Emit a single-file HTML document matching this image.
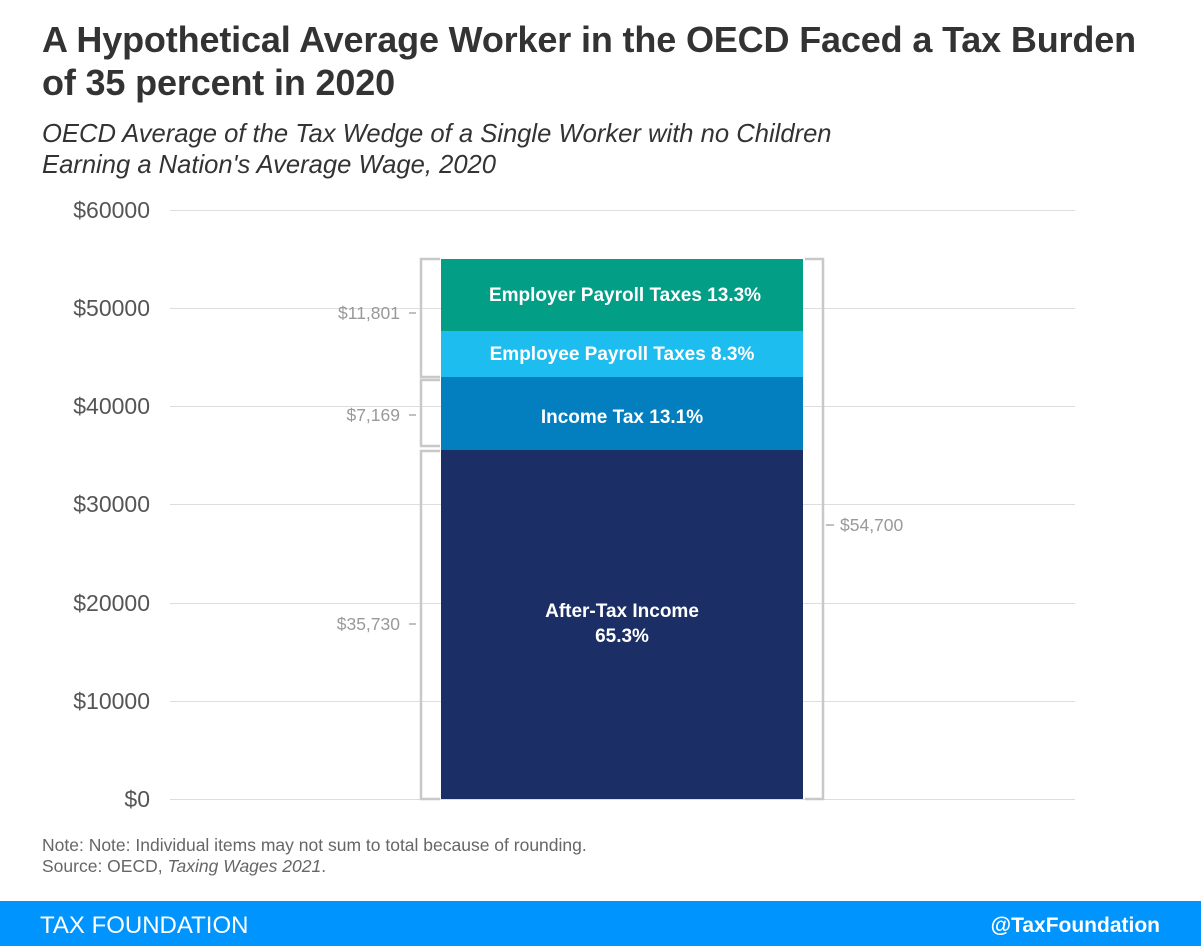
<!DOCTYPE html>
<html><head><meta charset="utf-8"><style>
body{margin:0;width:1201px;height:946px;background:#fff;overflow:hidden;font-family:"Liberation Sans",sans-serif}
</style></head><body>
<svg width="1201" height="946" xmlns="http://www.w3.org/2000/svg" style="position:absolute;left:0;top:0">
<text x="42" y="52" font-size="36" font-weight="bold" fill="#333" letter-spacing="-0.15">A Hypothetical Average Worker in the OECD Faced a Tax Burden</text>
<text x="42" y="95" font-size="36" font-weight="bold" fill="#333" letter-spacing="-0.15">of 35 percent in 2020</text>
<text x="42" y="142" font-size="25.6" font-style="italic" fill="#333">OECD Average of the Tax Wedge of a Single Worker with no Children</text>
<text x="42" y="173" font-size="25.6" font-style="italic" fill="#333">Earning a Nation's Average Wage, 2020</text>
<g stroke="#ddd" stroke-width="1">
<line x1="170" x2="1075" y1="210.5" y2="210.5"/><line x1="170" x2="1075" y1="308.5" y2="308.5"/>
<line x1="170" x2="1075" y1="406.5" y2="406.5"/><line x1="170" x2="1075" y1="504.5" y2="504.5"/>
<line x1="170" x2="1075" y1="603.5" y2="603.5"/><line x1="170" x2="1075" y1="701.5" y2="701.5"/>
<line x1="170" x2="1075" y1="799.5" y2="799.5"/>
</g>
<g font-size="23" fill="#555" text-anchor="end">
<text x="150" y="218">$60000</text><text x="150" y="316">$50000</text><text x="150" y="414">$40000</text>
<text x="150" y="512">$30000</text><text x="150" y="611">$20000</text><text x="150" y="709">$10000</text>
<text x="150" y="807">$0</text>
</g>
<rect x="441" y="259" width="362" height="72" fill="#039e86"/>
<rect x="441" y="331" width="362" height="46" fill="#1ebdef"/>
<rect x="441" y="377" width="362" height="73" fill="#037ebe"/>
<rect x="441" y="450" width="362" height="349" fill="#1b2e66"/>
<g fill="#fff" font-weight="bold" font-size="19" text-anchor="middle">
<text x="625" y="301">Employer Payroll Taxes 13.3%</text>
<text x="622" y="360">Employee Payroll Taxes 8.3%</text>
<text x="622" y="423">Income Tax 13.1%</text>
<text x="622" y="617">After-Tax Income</text>
<text x="622" y="642">65.3%</text>
</g>
<g stroke="#c8c8c8" stroke-width="2.5" fill="none">
<path d="M440 259H421V377H440"/><path d="M440 380H421V446H440"/><path d="M440 451H421V799H440"/>
<path d="M805 259H823V799H805"/>
</g>
<g stroke="#aaa" stroke-width="1.5">
<line x1="409" x2="416" y1="313" y2="313"/><line x1="409" x2="416" y1="415" y2="415"/>
<line x1="409" x2="416" y1="624" y2="624"/><line x1="826" x2="834" y1="525" y2="525"/>
</g>
<g font-size="17.5" fill="#999">
<text x="400" y="319" text-anchor="end">$11,801</text>
<text x="400" y="421" text-anchor="end">$7,169</text>
<text x="400" y="630" text-anchor="end">$35,730</text>
<text x="840" y="531">$54,700</text>
</g>
<text x="42" y="851" font-size="17.5" fill="#666">Note: Note: Individual items may not sum to total because of rounding.</text>
<text x="42" y="872" font-size="17.5" fill="#666">Source: OECD, <tspan font-style="italic">Taxing Wages 2021</tspan>.</text>
<rect x="0" y="901" width="1201" height="45" fill="#0094ff"/>
<text x="40" y="933" font-size="24" fill="#fff">TAX FOUNDATION</text>
<text x="1160" y="932" font-size="21" fill="#fff" font-weight="bold" text-anchor="end">@TaxFoundation</text>
</svg>
</body></html>
